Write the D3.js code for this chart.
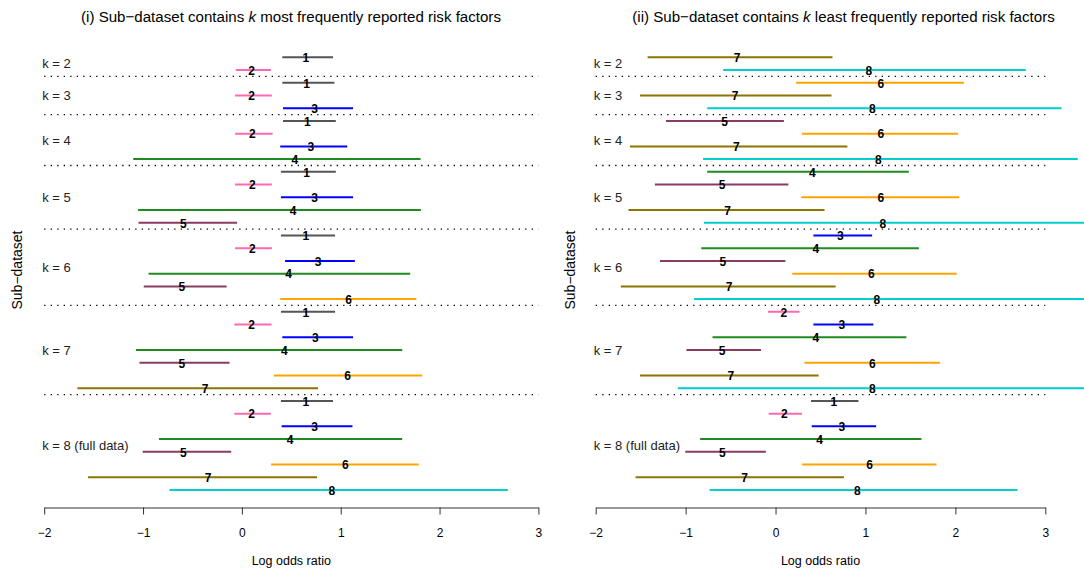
<!DOCTYPE html>
<html>
<head>
<meta charset="utf-8">
<script src="https://cdn.jsdelivr.net/npm/d3@7"></script>
<style>
  html, body { margin: 0; padding: 0; background: #fff; }
  svg { display: block; font-family: "Liberation Sans", Arial, Helvetica, sans-serif; }
</style>
</head>
<body>
<svg id="chart" width="1084" height="572"></svg>
<script>
// Sub-dataset sizes (one group per k)
const kValues = [2, 3, 4, 5, 6, 7, 8];
const kLabels = ["k = 2", "k = 3", "k = 4", "k = 5", "k = 6", "k = 7", "k = 8 (full data)"];
const xTicks = [-2, -1, 0, 1, 2, 3];

// Risk factor colours, factor 1..8
const factorColors = ["#555555", "#ff69b4", "#0000ff", "#1e8b1e", "#8b3a62", "#ffa500", "#8b7500", "#00cdcd"];

// Full data (k = 8): factors 1..8
const fullFactors = [1, 2, 3, 4, 5, 6, 7, 8];
const fullEst = [0.648, 0.099, 0.736, 0.489, -0.592, 1.046, -0.343, 0.911];
const fullLo  = [0.395, -0.076, 0.402, -0.839, -1.004, 0.296, -1.556, -0.733];
const fullHi  = [0.922, 0.293, 1.119, 1.622, -0.108, 1.790, 0.760, 2.690];

// (i) k most frequently reported risk factors
const mostFactors = [
  [1, 2], [1, 2, 3], [1, 2, 3, 4], [1, 2, 3, 4, 5], [1, 2, 3, 4, 5, 6], [1, 2, 3, 4, 5, 6, 7], fullFactors
];
const mostEst = [
  [0.648, 0.099],
  [0.655, 0.099, 0.736],
  [0.662, 0.106, 0.697, 0.536],
  [0.655, 0.106, 0.736, 0.518, -0.592],
  [0.648, 0.106, 0.771, 0.472, -0.607, 1.080],
  [0.648, 0.099, 0.743, 0.430, -0.607, 1.070, -0.371],
  fullEst
];
const mostLo = [
  [0.409, -0.062],
  [0.409, -0.069, 0.416],
  [0.416, -0.069, 0.388, -1.099],
  [0.395, -0.069, 0.395, -1.050, -1.046],
  [0.395, -0.069, 0.437, -0.944, -0.993, 0.388],
  [0.395, -0.076, 0.409, -1.071, -1.036, 0.325, -1.664],
  fullLo
];
const mostHi = [
  [0.922, 0.293],
  [0.936, 0.303, 1.125],
  [0.950, 0.311, 1.066, 1.808],
  [0.950, 0.303, 1.125, 1.811, -0.049],
  [0.943, 0.303, 1.143, 1.703, -0.154, 1.765],
  [0.943, 0.300, 1.125, 1.622, -0.125, 1.825, 0.771],
  fullHi
];

// (ii) k least frequently reported risk factors
const leastFactors = [
  [7, 8], [6, 7, 8], [5, 6, 7, 8], [4, 5, 6, 7, 8], [3, 4, 5, 6, 7, 8], [2, 3, 4, 5, 6, 7, 8], fullFactors
];
const leastEst = [
  [-0.427, 1.038],
  [1.170, -0.451, 1.077],
  [-0.566, 1.170, -0.435, 1.143],
  [0.410, -0.593, 1.170, -0.532, 1.193],
  [0.722, 0.449, -0.585, 1.066, -0.516, 1.127],
  [0.093, 0.738, 0.449, -0.593, 1.077, -0.497, 1.077],
  fullEst
];
const leastLo = [
  [-1.423, -0.582],
  [0.229, -1.508, -0.760],
  [-1.218, 0.294, -1.620, -0.806],
  [-0.760, -1.342, 0.287, -1.635, -0.795],
  [0.421, -0.826, -1.285, 0.186, -1.721, -0.906],
  [-0.084, 0.421, -0.701, -0.991, 0.321, -1.508, -1.087],
  fullLo
];
const leastHi = [
  [0.633, 2.783],
  [2.096, 0.622, 3.180],
  [0.093, 2.030, 0.799, 3.361],
  [1.482, 0.143, 2.043, 0.545, 3.700],
  [1.074, 1.594, 0.109, 2.015, 0.668, 3.700],
  [0.266, 1.088, 1.455, -0.162, 1.830, 0.479, 3.700],
  fullHi
];

const svg = d3.select("#chart");

function drawPanel(opts) {
  const { factors, est, lo, hi, xRange, titleX, titlePrefix, titleSuffix, yLabelX } = opts;

  // flatten groups into rows
  const rows = [];
  const groups = [];
  factors.forEach((fs, g) => {
    const start = rows.length;
    fs.forEach((f, j) => rows.push({ g, f, est: est[g][j], lo: lo[g][j], hi: hi[g][j] }));
    groups.push({ g, start, end: rows.length - 1 });
  });

  const x = d3.scaleLinear().domain([-2, 3]).range(xRange);
  const y = d3.scaleLinear().domain([0, rows.length - 1]).range([57.3, 490]);

  const gp = svg.append("g");

  // title
  const t = gp.append("text")
    .attr("x", titleX).attr("y", 22)
    .attr("text-anchor", "middle")
    .attr("font-size", 15.1).attr("fill", "#000");
  t.append("tspan").text(titlePrefix);
  t.append("tspan").attr("font-style", "italic").text("k");
  t.append("tspan").text(titleSuffix);

  // y axis title
  gp.append("text")
    .attr("transform", `translate(${yLabelX},270) rotate(-90)`)
    .attr("text-anchor", "middle")
    .attr("dy", "0.35em")
    .attr("font-size", 14).attr("fill", "#000")
    .text("Sub\u2212dataset");

  // group separators
  gp.selectAll("line.sep").data(groups.slice(0, -1)).join("line")
    .attr("class", "sep")
    .attr("x1", x(-2)).attr("x2", x(3))
    .attr("y1", d => y(d.end + 0.5)).attr("y2", d => y(d.end + 0.5))
    .attr("stroke", "#000").attr("stroke-width", 1.3)
    .attr("stroke-dasharray", "1.3,5.2");

  // group labels
  gp.selectAll("text.klab").data(groups).join("text")
    .attr("class", "klab")
    .attr("x", x(-2) - 2)
    .attr("y", d => y((d.start + d.end) / 2))
    .attr("dy", "0.35em")
    .attr("font-size", 13).attr("fill", "#222")
    .text(d => kLabels[d.g]);

  // intervals
  gp.selectAll("line.ci").data(rows).join("line")
    .attr("class", "ci")
    .attr("x1", d => x(d.lo)).attr("x2", d => x(d.hi))
    .attr("y1", (d, i) => y(i)).attr("y2", (d, i) => y(i))
    .attr("stroke", d => factorColors[d.f - 1])
    .attr("stroke-width", 2);

  // factor number at the estimate
  gp.selectAll("text.est").data(rows).join("text")
    .attr("class", "est")
    .attr("x", d => x(d.est))
    .attr("y", (d, i) => y(i) + 0.5)
    .attr("dy", "0.36em")
    .attr("text-anchor", "middle")
    .attr("font-size", 12).attr("font-weight", "bold").attr("fill", "#000")
    .text(d => d.f);

  // x axis
  const axis = d3.axisBottom(x).tickValues(xTicks).tickSize(7).tickPadding(14).tickSizeOuter(0)
    .tickFormat(d => d < 0 ? "\u2212" + Math.abs(d) : String(d));
  const ag = gp.append("g").attr("transform", "translate(0,507.5)").call(axis);
  ag.select(".domain").attr("stroke", "#333");
  ag.selectAll(".tick line").attr("stroke", "#333");
  ag.selectAll(".tick text").attr("font-size", 12).attr("fill", "#000")
    .attr("font-family", "Liberation Sans, Arial, sans-serif");

  gp.append("text")
    .attr("x", (xRange[0] + xRange[1]) / 2).attr("y", 565)
    .attr("text-anchor", "middle")
    .attr("font-size", 12.5).attr("fill", "#000")
    .text("Log odds ratio");
}

drawPanel({
  factors: mostFactors, est: mostEst, lo: mostLo, hi: mostHi,
  xRange: [44.2, 538.4], titleX: 291,
  titlePrefix: "(i) Sub\u2212dataset contains ", titleSuffix: " most frequently reported risk factors",
  yLabelX: 17.5
});

drawPanel({
  factors: leastFactors, est: leastEst, lo: leastLo, hi: leastHi,
  xRange: [595.7, 1045.3], titleX: 843.5,
  titlePrefix: "(ii) Sub\u2212dataset contains ", titleSuffix: " least frequently reported risk factors",
  yLabelX: 570
});
</script>
</body>
</html>
